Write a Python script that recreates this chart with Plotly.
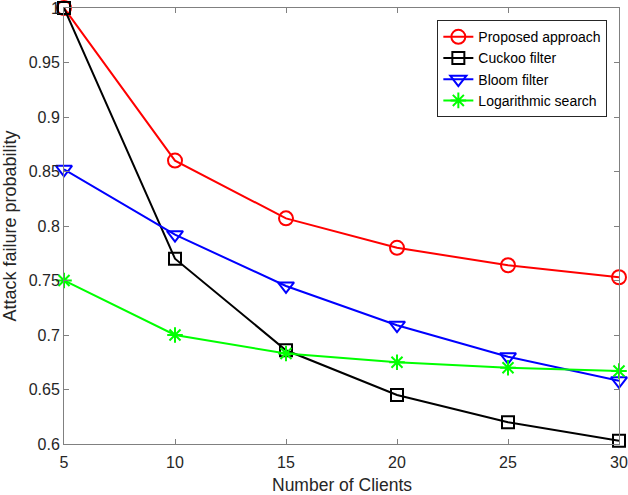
import plotly.graph_objects as go

clients = [5, 10, 15, 20, 25, 30]
proposed = [1.0, 0.860, 0.807, 0.780, 0.764, 0.753]
cuckoo = [1.0, 0.770, 0.686, 0.645, 0.620, 0.603]
bloom = [0.852, 0.792, 0.745, 0.709, 0.680, 0.658]
logsearch = [0.750, 0.700, 0.683, 0.675, 0.670, 0.667]

names = ["Proposed approach", "Cuckoo filter", "Bloom filter", "Logarithmic search"]
colors = ["#ff0000", "#000000", "#0000ff", "#00ff00"]
symbols = ["circle-open", "square-open", "triangle-down-open", "asterisk-open"]
sizes = [14, 12, 14, 13]
series = [proposed, cuckoo, bloom, logsearch]

ytickvals = [0.6, 0.65, 0.7, 0.75, 0.8, 0.85, 0.9, 0.95, 1.0]
yticktext = ["0.6", "0.65", "0.7", "0.75", "0.8", "0.85", "0.9", "0.95", "1"]
xtickvals = [5, 10, 15, 20, 25, 30]

fig = go.Figure()
for n, c, s, sz, ys in zip(names, colors, symbols, sizes, series):
    fig.add_trace(go.Scatter(
        x=clients, y=ys, name=n, mode="lines+markers",
        line=dict(color=c, width=2),
        marker=dict(symbol=s, size=sz, color=c, line=dict(color=c, width=2)),
        cliponaxis=False,
    ))

axis_common = dict(
    showgrid=False, zeroline=False, showline=True, linecolor="#808080", linewidth=1,
    mirror="ticks", ticks="inside", ticklen=5, tickcolor="#808080",
    tickfont=dict(size=16, color="#262626"), automargin=False,
    ticklabeloverflow="allow",
)
fig.update_xaxes(range=[5, 30], tickvals=xtickvals, ticklabelstandoff=4,
                 **axis_common)
fig.update_yaxes(range=[0.6, 1.0], tickvals=ytickvals, ticktext=yticktext,
                 title=dict(text="Attack failure probability", font=dict(size=18, color="#262626"), standoff=8),
                 **axis_common)

fig.add_annotation(text="Number of Clients", xref="paper", yref="paper", x=0.5, y=0,
                   xanchor="center", yanchor="middle", yshift=-41, showarrow=False,
                   borderpad=0, font=dict(size=17.5, color="#262626"))

fig.update_layout(
    template="none",
    width=628, height=495,
    margin=dict(l=64, r=9, t=8, b=51),
    paper_bgcolor="white", plot_bgcolor="white",
    font=dict(family="Liberation Sans, Arial, sans-serif", color="#262626"),
    showlegend=True,
    legend=dict(x=0.979, y=0.972, xanchor="right", yanchor="top",
                bgcolor="white", bordercolor="#262626", borderwidth=1,
                font=dict(size=14, color="#000000"), tracegroupgap=0,
                itemwidth=30),
)
fig.write_html("out.html")
